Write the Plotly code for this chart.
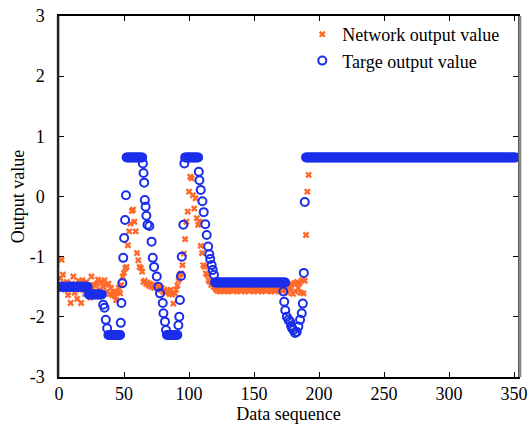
import plotly.graph_objects as go

# ---------------- data ----------------
# Network output value (orange crosses), one value per data index starting at 1
net_y = (
    [-1.36, -1.05, -1.30, -1.45, -1.55, -1.42, -1.64, -1.50, -1.77, -1.45,
     -1.33, -1.60, -1.48, -1.70, -1.40, -1.55, -1.77, -1.39, -1.50, -1.62,
     -1.42, -1.55, -1.48, -1.68, -1.33, -1.52, -1.47, -1.60, -1.45, -1.38,
     -1.55, -1.65, -1.42, -1.50, -1.39, -1.47, -1.58, -1.45, -1.62, -1.52,
     -1.64, -1.58, -1.66, -1.72, -1.58, -1.52, -1.61, -1.47, -1.33, -1.27,
     -1.19, -1.17, -0.81, -0.58, -0.45, -0.24, -0.22, -0.42, -0.58, -0.94,
     -1.06, -1.17, -1.19, -1.25, -1.42, -1.40, -1.45, -1.43, -1.48, -1.45,
     -1.50, -1.47, -1.52, -1.50, -1.48, -1.53, -1.50, -1.55, -1.52, -1.58,
     -1.55, -1.60, -1.57, -1.58, -1.62, -1.55, -1.63, -1.78, -1.61, -1.55,
     -1.48, -1.39, -1.30, -1.28, -1.14, -0.95, -0.71, -0.42, -0.25, 0.08,
     0.33, 0.30, 0.02, -0.20, -0.03, -0.36, -0.47, -0.42, -0.82, -0.94,
     -1.14, -1.17, -1.28, -1.30, -1.39, -1.42, -1.47, -1.45, -1.50, -1.52]
    + [-1.55, -1.57, -1.54, -1.58, -1.55, -1.56, -1.53, -1.57, -1.55, -1.58,
       -1.54, -1.56, -1.55, -1.57, -1.53, -1.56, -1.58, -1.55, -1.54, -1.57,
       -1.55, -1.56, -1.58, -1.54, -1.55, -1.57, -1.56, -1.53, -1.55, -1.58,
       -1.56, -1.54, -1.57, -1.55, -1.56, -1.58, -1.54, -1.55, -1.57, -1.56,
       -1.53, -1.55, -1.58, -1.56, -1.54, -1.57, -1.55, -1.56, -1.58, -1.54,
       -1.55, -1.57]
    + [-1.52, -1.55, -1.50, -1.60, -1.48, -1.55, -1.46, -1.62, -1.44, -1.58,
       -1.42, -1.52, -1.44, -1.60, -1.39, -1.61, -1.40, -0.64, 0.08, 0.36]
    + [0.65] * 159  # final plateau (hidden behind the target band)
)
net_x = list(range(1, len(net_y) + 1))

# Target output value (blue circles)
tgt_x = (
    list(range(1, 23)) + list(range(23, 34))
    + [34, 35, 36, 37] + list(range(38, 48))
    + [47.5, 48, 48.7, 49.4, 50.1, 50.8, 51.5]
    + list(range(52, 65))
    + [64.5, 65, 65.5, 66, 66.6, 67.2, 68, 69.5, 71.2, 72.1, 73.1, 75.2,
       76.4, 77.7, 79.8, 80.3, 81.5, 82.3]
    + list(range(83, 92))
    + [91.8, 92.5, 93, 93.8, 94.4, 95.6, 96.4]
    + list(range(97, 108))
    + [107.5, 108, 109, 110.3, 111.3, 112.5, 113.6, 114.7, 115.6, 116.3,
       117.4, 118.2, 119.2]
    + list(range(120, 175))
    + [172.5, 173.2, 174, 175.2, 176.5, 177.7, 178.5, 179.3, 180.3, 181.5,
       182.8, 184.1, 185.4, 186.7, 187.5, 188.3, 189]
    + list(range(190, 352))
)
tgt_y = (
    [-1.5] * 22 + [-1.63] * 11
    + [-1.80, -1.85, -2.05, -2.19] + [-2.3] * 10
    + [-2.1, -1.77, -1.44, -1.02, -0.69, -0.39, 0.02]
    + [0.65] * 13
    + [0.55, 0.39, 0.23, -0.06, -0.17, -0.32, -0.47, -0.49, -0.75, -1.02,
       -1.17, -1.33, -1.50, -1.61, -1.77, -1.94, -2.08, -2.22]
    + [-2.3] * 9
    + [-2.14, -2.0, -1.72, -1.32, -1.0, -0.47, 0.55]
    + [0.65] * 11
    + [0.41, 0.27, 0.11, -0.08, -0.26, -0.46, -0.64, -0.83, -0.96, -1.04,
       -1.14, -1.22, -1.30]
    + [-1.43] * 55
    + [-1.58, -1.75, -1.89, -2.0, -2.05, -2.08, -2.15, -2.19, -2.22, -2.27,
       -2.25, -2.16, -2.05, -1.94, -1.78, -1.27, -0.09]
    + [0.65] * 162
)

x_ticks = [0, 50, 100, 150, 200, 250, 300, 350]
y_ticks = [-3, -2, -1, 0, 1, 2, 3]
y_tick_labels = ["-3", "-2", "-1", "0", "1", "2", "3"]

series_names = ["Network output value", "Targe output value"]

# ---------------- figure ----------------
FONT = "Liberation Serif, Times New Roman, serif"
FS = 18

fig = go.Figure()
fig.add_trace(go.Scatter(
    x=net_x, y=net_y, mode="markers", name=series_names[0],
    marker=dict(symbol="x", size=6, color="#FF6A2A", line=dict(width=0)),
))
fig.add_trace(go.Scatter(
    x=tgt_x, y=tgt_y, mode="markers", name=series_names[1],
    marker=dict(symbol="circle-open", size=8, color="#1A2EEA",
                line=dict(width=2, color="#1A2EEA")),
))

axis_common = dict(
    showline=True, linecolor="black", linewidth=1.5, mirror="ticks",
    ticks="inside", ticklen=5, tickwidth=1.2, tickcolor="black",
    showgrid=False, zeroline=False, automargin=False,
    tickfont=dict(family=FONT, size=FS, color="black"),
)

fig.update_layout(
    width=532, height=424,
    margin=dict(l=59, r=14, t=16, b=47),
    paper_bgcolor="white", plot_bgcolor="white",
    font=dict(family=FONT, size=FS, color="black"),
    xaxis=dict(range=[0, 353], tickvals=x_ticks,
               title=dict(text="Data sequence", font=dict(family=FONT, size=FS), standoff=2),
               **axis_common),
    yaxis=dict(range=[-3, 3], tickvals=y_ticks, ticktext=y_tick_labels,
               ticklabelstandoff=9,
               title=dict(text="Output value", font=dict(family=FONT, size=FS), standoff=0),
               **axis_common),
    legend=dict(x=0.53, y=1.0, xanchor="left", yanchor="top",
                bgcolor="rgba(0,0,0,0)", font=dict(family=FONT, size=FS),
                itemwidth=30),
    showlegend=True,
)

# thicker left spine and gray shadow on the right frame edge
fig.add_shape(type="line", xref="paper", yref="paper", x0=-0.002, x1=-0.002, y0=0, y1=1,
              line=dict(color="#222222", width=2.5))
fig.add_shape(type="line", xref="paper", yref="paper", x0=1.004, x1=1.004, y0=0, y1=1,
              line=dict(color="#8a8a8a", width=3))

fig.write_html("out.html")
